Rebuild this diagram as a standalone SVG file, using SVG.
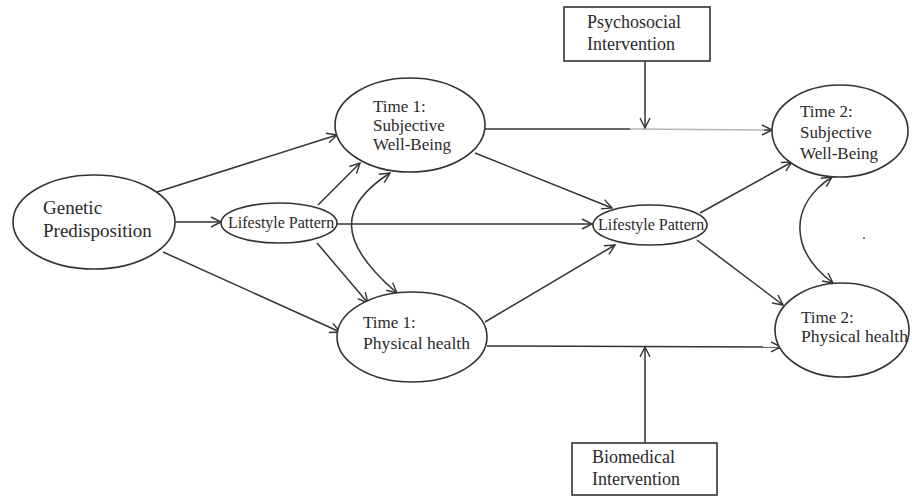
<svg xmlns="http://www.w3.org/2000/svg" width="912" height="496" viewBox="0 0 912 496">
<style>
.node ellipse, .node rect { fill: #fff; stroke: #333; stroke-width: 1.6; }
.node text { fill: #2a2a2a; }
.t17 { font-size: 17px; }
.t19 { font-size: 19px; }
.t18p { font-size: 17.6px; }
.t16 { font-size: 16px; }
.t18 { font-size: 18px; }
.conn path { fill: none; stroke: #333; stroke-width: 1.5; }
.conn path.light { stroke: #b4b4b4; }
</style>
<defs>
<marker id="arr" markerUnits="userSpaceOnUse" markerWidth="14" markerHeight="14" refX="11" refY="6" orient="auto-start-reverse" viewBox="0 0 14 12">
<path d="M1,1 L11,6 L1,11" fill="none" stroke="#333" stroke-width="1.4"/>
</marker>
</defs>
<rect width="912" height="496" fill="#fff"/>

<g class="conn">
<path d="M157,192 L337,135" marker-end="url(#arr)"/>
<path d="M175,222 L221,222" marker-end="url(#arr)"/>
<path d="M163,252 L340,332" marker-end="url(#arr)"/>
<path d="M318,205 L360,163" marker-end="url(#arr)"/>
<path d="M317,243 L368,303" marker-end="url(#arr)"/>
<path d="M390,173 C340,205 335,240 397,293" marker-start="url(#arr)" marker-end="url(#arr)"/>
<path d="M337,224 L592,224" marker-end="url(#arr)"/>
<path d="M475,153 L612,208" marker-end="url(#arr)"/>
<path d="M485,322 L615,245" marker-end="url(#arr)"/>
<path d="M485,129 L630,129"/>
<path class="light" d="M630,129 L772,130"/>
<path d="M764,130 L772,130" marker-end="url(#arr)"/>
<path d="M645,61 L645,128" marker-end="url(#arr)"/>
<path d="M700,213 L792,162" marker-end="url(#arr)"/>
<path d="M697,240 L783,305" marker-end="url(#arr)"/>
<path d="M832,177 C789,205 789,250 833,283" marker-start="url(#arr)" marker-end="url(#arr)"/>
<path d="M487,346 L781,347" marker-end="url(#arr)"/>
<path d="M645,443 L645,347" marker-end="url(#arr)"/>
</g>

<g font-family="'Liberation Serif', 'Times New Roman', Tinos, 'DejaVu Serif', serif">
<g id="genetic" class="node">
<ellipse cx="94" cy="222" rx="81" ry="47"/>
<text class="t19" x="43" y="214">Genetic</text>
<text class="t19" x="43" y="237">Predisposition</text>
</g>

<g id="lifestyle1" class="node">
<ellipse cx="279" cy="223" rx="58" ry="20"/>
<text class="t16" x="228" y="228">Lifestyle Pattern</text>
</g>

<g id="t1swb" class="node">
<ellipse cx="410" cy="125" rx="75" ry="47"/>
<text class="t17" x="373" y="112">Time 1:</text>
<text class="t17" x="373" y="131">Subjective</text>
<text class="t17" x="373" y="150">Well-Being</text>
</g>

<g id="t1ph" class="node">
<ellipse cx="412" cy="337" rx="75" ry="45"/>
<text class="t17" x="363" y="328">Time 1:</text>
<text class="t18p" x="363" y="349">Physical health</text>
</g>

<g id="lifestyle2" class="node">
<ellipse cx="650" cy="225" rx="57" ry="20"/>
<text class="t16" x="598" y="230">Lifestyle Pattern</text>
</g>

<g id="t2swb" class="node">
<ellipse cx="840" cy="131" rx="68" ry="46"/>
<text class="t17" x="800" y="117">Time 2:</text>
<text class="t17" x="800" y="138">Subjective</text>
<text class="t17" x="800" y="159">Well-Being</text>
</g>

<g id="t2ph" class="node">
<ellipse cx="842" cy="330" rx="67" ry="47"/>
<text class="t17" x="801" y="323">Time 2:</text>
<text class="t18p" x="801" y="342">Physical health</text>
</g>

<g id="psychosocial" class="node">
<rect x="564" y="7" width="146" height="54"/>
<text class="t18" x="587" y="28">Psychosocial</text>
<text class="t18" x="587" y="50">Intervention</text>
</g>

<g id="biomedical" class="node">
<rect x="572" y="443" width="145" height="52"/>
<text class="t18" x="592" y="463">Biomedical</text>
<text class="t18" x="592" y="485">Intervention</text>
</g>
</g>

<circle cx="864" cy="238" r="1" fill="#555"/>
</svg>
